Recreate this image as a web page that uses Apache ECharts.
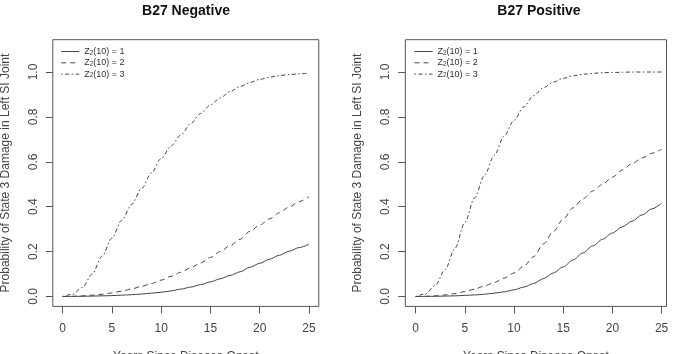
<!DOCTYPE html>
<html><head><meta charset="utf-8">
<script src="https://cdn.jsdelivr.net/npm/echarts@6/dist/echarts.min.js"></script>
<style>html,body{margin:0;padding:0;background:#fff}#c{width:674px;height:354px}</style>
</head><body><div id="c"></div>
<script>
// ---- data ----
const years = [0,1,2,3,4,5,6,7,8,9,10,11,12,13,14,15,16,17,18,19,20,21,22,23,24,25];
const xTicks = [0,5,10,15,20,25];
const yTicks = [0,0.2,0.4,0.6,0.8,1.0];
const panelTitles = ['B27 Negative', 'B27 Positive'];
const seriesNames = ['Z2(10) = 1', 'Z2(10) = 2', 'Z2(10) = 3'];
const xTitle = 'Years Since Disease Onset';
const yTitle = 'Probability of State 3 Damage in Left SI Joint';

// B27 Negative
const negZ1 = [0,0.0005,0.001,0.002,0.003,0.004,0.006,0.008,0.011,0.015,0.019,0.025,0.033,0.042,0.053,0.065,0.079,0.094,0.11,0.13,0.148,0.166,0.184,0.202,0.218,0.233];
const negZ2 = [0,0.001,0.003,0.006,0.01,0.016,0.024,0.034,0.045,0.058,0.073,0.09,0.108,0.128,0.15,0.174,0.2,0.227,0.255,0.29,0.318,0.346,0.373,0.399,0.423,0.445];
const negZ3 = [0,0.01,0.04,0.1,0.18,0.26,0.34,0.41,0.48,0.55,0.615,0.67,0.72,0.77,0.815,0.853,0.885,0.913,0.935,0.953,0.967,0.977,0.984,0.989,0.992,0.995];
// B27 Positive
const posZ1 = [0,0.0005,0.001,0.002,0.003,0.005,0.007,0.01,0.015,0.021,0.03,0.042,0.058,0.08,0.105,0.132,0.163,0.194,0.225,0.255,0.283,0.31,0.336,0.363,0.39,0.416];
const posZ2 = [0,0.001,0.003,0.007,0.013,0.022,0.033,0.047,0.063,0.082,0.105,0.135,0.178,0.235,0.29,0.345,0.395,0.435,0.47,0.5,0.532,0.563,0.592,0.617,0.638,0.656];
const posZ3 = [0,0.012,0.05,0.12,0.215,0.33,0.44,0.54,0.63,0.715,0.785,0.845,0.895,0.93,0.955,0.972,0.983,0.99,0.994,0.997,0.998,0.999,1,1,1,1];

// ---- chart ----
const FONT = 'Liberation Sans, Arial, Helvetica, sans-serif';
const lineColor = '#444';
const dashes = ['solid', [5,4], [1.5,2.5,4,2.5]];
const panels = [[negZ1,negZ2,negZ3],[posZ1,posZ2,posZ3]];
const grids = [
  {left: 52.8, top: 39.7, width: 266, height: 266.7},
  {left: 405.3, top: 39.7, width: 261.2, height: 266.7}
];
const xRanges = [[-1, 26], [-1.05, 25.5]];
const titleX = [186, 539];
const legendX = [60.7, 414];

const pts = v => years.map((x,i) => [x, v[i]]);

const option = {
  animation: false,
  backgroundColor: '#fff',
  textStyle: {fontFamily: FONT},
  title: panelTitles.map((t,i) => ({
    text: t, left: titleX[i], top: 4, textAlign: 'center', padding: 0,
    textStyle: {fontSize: 14, fontWeight: 'bold', color: '#111', fontFamily: FONT}
  })),
  grid: grids.map(g => Object.assign({show: true, borderColor: '#555', borderWidth: 1,
    backgroundColor: 'transparent', containLabel: false, outerBoundsMode: 'none'}, g)),
  xAxis: grids.map((g,i) => ({
    type: 'value', gridIndex: i, min: xRanges[i][0], max: xRanges[i][1],
    axisLine: {show: false, onZero: false},
    splitLine: {show: false},
    axisTick: {show: true, customValues: xTicks, length: 7, lineStyle: {color: '#555'}},
    axisLabel: {customValues: xTicks, margin: 16, fontSize: 12, color: '#444', fontFamily: FONT},
    name: xTitle, nameLocation: 'middle', nameGap: 44,
    nameTextStyle: {fontSize: 12, color: '#444', fontFamily: FONT}
  })),
  yAxis: grids.map((g,i) => ({
    type: 'value', gridIndex: i, min: -0.044, max: 1.144,
    axisLine: {show: false, onZero: false},
    splitLine: {show: false},
    axisTick: {show: true, customValues: yTicks, length: 7, lineStyle: {color: '#555'}},
    axisLabel: {customValues: yTicks, rotate: 90, margin: 13.5, fontSize: 12, color: '#444', fontFamily: FONT,
      formatter: v => v.toFixed(1)},
    name: yTitle, nameLocation: 'middle', nameGap: 41.5,
    nameTextStyle: {fontSize: 12, color: '#444', fontFamily: FONT}
  })),
  legend: legendX.map(lx => ({
    left: lx, top: 47, orient: 'vertical', padding: 0,
    itemWidth: 18, itemHeight: 9, itemGap: 2.3,
    data: seriesNames,
    itemStyle: {color: 'transparent', borderWidth: 0, opacity: 0},
    lineStyle: {width: 1},
    formatter: n => n.replace('Z2', 'Z{sub|2}'),
    textStyle: {fontSize: 9, color: '#333', fontFamily: FONT,
      rich: {sub: {fontSize: 6.3, verticalAlign: 'bottom', lineHeight: 9, fontFamily: FONT, color: '#333'}}}
  })),
  series: []
};
panels.forEach((vals, p) => {
  vals.forEach((v, k) => {
    option.series.push({
      type: 'line', name: seriesNames[k], xAxisIndex: p, yAxisIndex: p,
      data: pts(v), showSymbol: false, symbol: 'none', smooth: 0.3, smoothMonotone: 'x',
      lineStyle: {color: lineColor, width: 1, type: dashes[k]},
      itemStyle: {color: lineColor}
    });
  });
});
const chart = echarts.init(document.getElementById('c'), null, {renderer: 'canvas'});
chart.setOption(option);
</script>
</body></html>
